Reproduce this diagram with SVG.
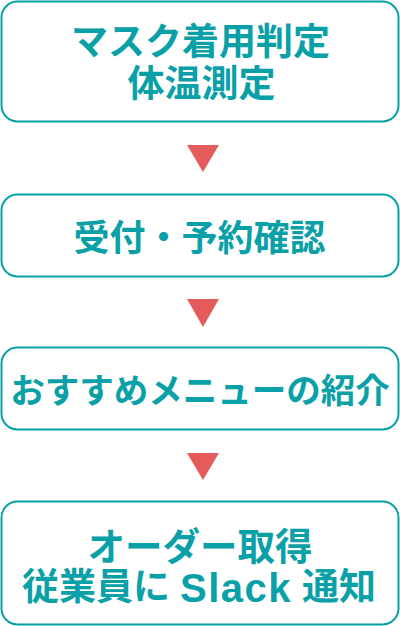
<svg xmlns="http://www.w3.org/2000/svg" width="400" height="626" viewBox="0 0 400 626">
<style>
.box{fill:#fff;stroke:#0aa0a8;stroke-width:2}
.t{fill:#0aa0a8;font-family:"Noto Sans CJK JP","Noto Sans",sans-serif;font-weight:bold;text-anchor:middle}
.lat{font-family:"Liberation Sans",Arial,sans-serif;font-weight:bold;letter-spacing:1.5px}
.arr{fill:#e55a5a}
</style>
<rect width="400" height="626" fill="#fff"/>
<g id="node1">
<rect class="box" x="1.5" y="1.5" width="397" height="120" rx="16"/>
<text class="t" x="200.5" y="55" font-size="37">マスク着用判定</text>
<text class="t" x="201.5" y="96.5" font-size="37">体温測定</text>
</g>
<g id="node2">
<rect class="box" x="1.5" y="194.5" width="397" height="82" rx="16"/>
<text class="t" x="199.5" y="250.7" font-size="36">受付・予約確認</text>
</g>
<g id="node3">
<rect class="box" x="1.5" y="347.5" width="397" height="82" rx="16"/>
<text class="t" x="200" y="402.6" font-size="34.5">おすすめメニューの紹介</text>
</g>
<g id="node4">
<rect class="box" x="1.5" y="501.5" width="397" height="123" rx="16"/>
<text class="t" x="200" y="560" font-size="37.5">オーダー取得</text>
<text class="t" font-size="37" y="599.5" style="text-anchor:start"><tspan x="22">従業員に</tspan><tspan class="lat" x="180" y="602" font-size="40">Slack</tspan><tspan x="302" y="599.5">通知</tspan></text>
</g>
<g id="connectors">
<polygon class="arr" points="187,145 219,145 203,172"/>
<polygon class="arr" points="187,299 219,299 203,327"/>
<polygon class="arr" points="187,453 219,453 203,480"/>
</g>
</svg>
